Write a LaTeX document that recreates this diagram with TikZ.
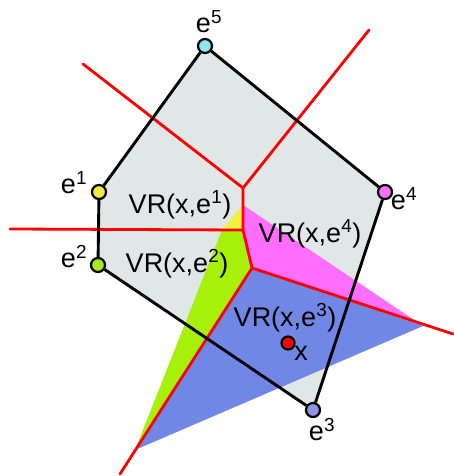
\documentclass[tikz,border=0pt]{standalone}
\usepackage{fontspec}
\setmainfont{Liberation Sans}
\definecolor{polygrey}{RGB}{225,230,230}
\definecolor{vryellow}{RGB}{242,240,58}
\definecolor{vrgreen}{RGB}{166,240,10}
\definecolor{vrpink}{RGB}{255,110,255}
\definecolor{vrblue}{RGB}{112,135,230}
\definecolor{ncyan}{RGB}{140,230,240}
\definecolor{nyellow}{RGB}{242,232,70}
\definecolor{ngreen}{RGB}{166,232,30}
\definecolor{npink}{RGB}{255,110,255}
\definecolor{nblue}{RGB}{140,150,230}
\definecolor{vred}{RGB}{255,0,0}
\tikzset{
  vert/.style={circle,draw=black,line width=2.2pt,minimum size=14pt,inner sep=0pt},
  edgeline/.style={black,line width=2.9pt},
  redline/.style={vred,line width=2.8pt,line cap=round},
  lbl/.style={font=\fontsize{27}{27}\selectfont,inner sep=0pt},
  vrlbl/.style={font=\fontsize{27}{27}\selectfont,inner sep=0pt,anchor=base},
}
\begin{document}
\begin{tikzpicture}[x=1pt,y=-1pt]
\useasboundingbox (0,0) rectangle (453,476);
% vertex positions
\coordinate (p1) at (99,192);
\coordinate (p2) at (98,265);
\coordinate (p3) at (313,410);
\coordinate (p4) at (385,192);
\coordinate (p5) at (205,46);
% grey polygon
\fill[polygrey] (p1) -- (p5) -- (p4) -- (p3) -- (p2) -- cycle;
% region coordinates
\coordinate (ya) at (243,205);
\coordinate (yb) at (222,230);
\coordinate (jc) at (243,230);
\coordinate (jl) at (252,268);
\coordinate (tr) at (423,326);
\coordinate (bl) at (135,450);
\coordinate (jt) at (243,188);
\coordinate (rl) at (83,64);
\coordinate (ru) at (369,30);
\coordinate (rh) at (10,229);
\coordinate (rb) at (120,474);
\coordinate (rr) at (453,334);
% coloured regions
\fill[vryellow] (ya) -- (yb) -- (jc) -- cycle;
\fill[vrpink] (ya) -- (tr) -- (jl) -- (jc) -- cycle;
\fill[vrgreen] (yb) -- (jc) -- (jl) -- (bl) -- cycle;
\fill[vrblue] (jl) -- (tr) -- (bl) -- cycle;
% red Voronoi lines
\draw[redline] (rl) -- (jt) -- (ru);
\draw[redline,line join=round] (jt) -- (jc) -- (jl) -- (rr);
\draw[redline] (rh) -- (jc);
\draw[redline] (jl) -- (rb);
% vertices
\node[vert,fill=nyellow] (e1) at (p1) {};
\node[vert,fill=ngreen] (e2) at (p2) {};
\node[vert,fill=nblue] (e3) at (p3) {};
\node[vert,fill=npink] (e4) at (p4) {};
\node[vert,fill=ncyan] (e5) at (p5) {};
\node[vert,fill=vred,minimum size=13pt] (xp) at (288,343) {};
% polygon edges
\draw[edgeline] (e1) -- (e5);
\draw[edgeline] (e5) -- (e4);
\draw[edgeline] (e4) -- (e3);
\draw[edgeline] (e3) -- (e2);
\draw[edgeline] (e2) -- (e1);
% vertex labels
\node[lbl] (l1) at (74,183) {e\textsuperscript{1}};
\node[lbl] (l2) at (74,257) {e\textsuperscript{2}};
\node[lbl] (l3) at (322,430) {e\textsuperscript{3}};
\node[lbl] (l4) at (404,199) {e\textsuperscript{4}};
\node[lbl] (l5) at (209,22) {e\textsuperscript{5}};
\node[lbl] (lx) at (301,353) {x};
% region labels
\node[vrlbl] (r1) at (180,213) {VR(x,e\textsuperscript{1})};
\node[vrlbl] (r2) at (177,272) {VR(x,e\textsuperscript{2})};
\node[vrlbl] (r4) at (310,242) {VR(x,e\textsuperscript{4})};
\node[vrlbl] (r3) at (285,326) {VR(x,e\textsuperscript{3})};
\end{tikzpicture}
\end{document}
